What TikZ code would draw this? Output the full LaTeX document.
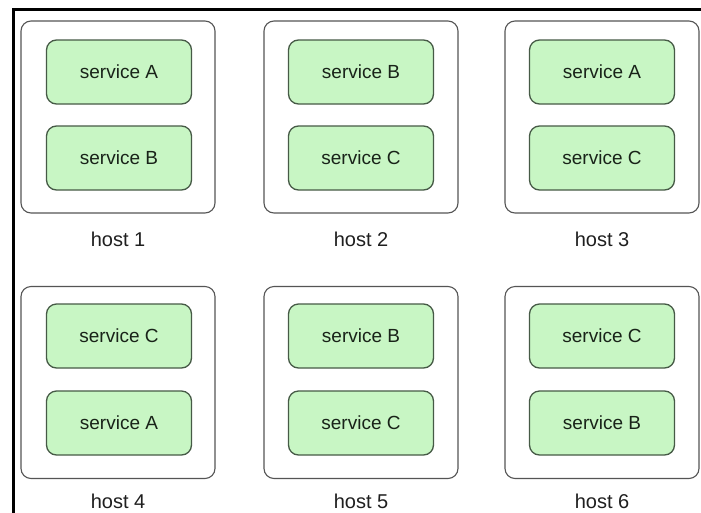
\documentclass[tikz,border=0pt]{standalone}
\usepackage{fontspec}
\setmainfont{Liberation Sans}
\definecolor{svcfill}{RGB}{200,246,196}
\definecolor{svcdraw}{RGB}{70,90,70}
\definecolor{hostdraw}{RGB}{85,85,85}
\definecolor{txt}{RGB}{25,35,25}
\begin{document}
\begin{tikzpicture}[x=1pt,y=-1pt,
  hostbox/.style={draw=hostdraw,line width=1.1pt,rounded corners=10pt,minimum width=194pt,minimum height=192pt,inner sep=0pt,fill=white},
  svcbox/.style={draw=svcdraw,fill=svcfill,line width=1.3pt,rounded corners=10pt,minimum width=145pt,minimum height=64pt,inner sep=0pt,text=txt,font=\fontsize{19}{21}\selectfont},
  hostlabel/.style={anchor=base,inner sep=0pt,text=black!88,font=\fontsize{20}{22}\selectfont},
  frameline/.style={line width=2.6pt,black}]
\useasboundingbox (0,0) rectangle (701,512);
\fill[white] (0,0) rectangle (701,512);
\coordinate (fa) at (13.7,513);
\coordinate (fb) at (13.7,9.7);
\coordinate (fc) at (702,9.7);
\draw[frameline] (fa) -- (fb) -- (fc);
% row 1
\node[hostbox] (h1) at (118,117) {};
\node[hostbox] (h2) at (361,117) {};
\node[hostbox] (h3) at (602,117) {};
\node[svcbox] (h1a) at (119,72) {service A};
\node[svcbox] (h1b) at (119,158) {service B};
\node[svcbox] (h2a) at (361,72) {service B};
\node[svcbox] (h2b) at (361,158) {service C};
\node[svcbox] (h3a) at (602,72) {service A};
\node[svcbox] (h3b) at (602,158) {service C};
\node[hostlabel] (l1) at (118,246) {host 1};
\node[hostlabel] (l2) at (361,246) {host 2};
\node[hostlabel] (l3) at (602,246) {host 3};
% row 2
\node[hostbox] (h4) at (118,382.5) {};
\node[hostbox] (h5) at (361,382.5) {};
\node[hostbox] (h6) at (602,382.5) {};
\node[svcbox] (h4a) at (119,336) {service C};
\node[svcbox] (h4b) at (119,423) {service A};
\node[svcbox] (h5a) at (361,336) {service B};
\node[svcbox] (h5b) at (361,423) {service C};
\node[svcbox] (h6a) at (602,336) {service C};
\node[svcbox] (h6b) at (602,423) {service B};
\node[hostlabel] (l4) at (118,508.5) {host 4};
\node[hostlabel] (l5) at (361,508.5) {host 5};
\node[hostlabel] (l6) at (602,508.5) {host 6};
\end{tikzpicture}
\end{document}
